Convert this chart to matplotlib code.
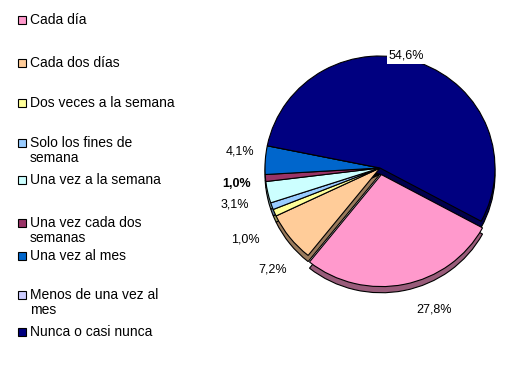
import textwrap
import numpy as np
import matplotlib
matplotlib.use("Agg")
import matplotlib.pyplot as plt
from matplotlib.patches import Rectangle
from matplotlib.colors import to_rgb

plt.rcParams['font.family'] = ['Liberation Sans', 'DejaVu Sans']

# data
categories = ["Cada día", "Cada dos días", "Dos veces a la semana",
              "Solo los fines de semana", "Una vez a la semana",
              "Una vez cada dos semanas", "Una vez al mes",
              "Menos de una vez al mes", "Nunca o casi nunca"]
values = [27.8, 7.2, 1.0, 1.0, 3.1, 1.0, 4.1, 0.0, 54.6]
value_labels = ["27,8%", "7,2%", "1,0%", "", "3,1%", "1,0%", "4,1%", "", "54,6%"]
colors = ["#FF99CC", "#FFCC99", "#FFFF99", "#99CCFF", "#CCFFFF",
          "#993366", "#0066CC", "#CCCCFF", "#000080"]
explode = [0.06, 0, 0, 0, 0, 0, 0, 0, 0]

W, H = 530, 365
fig = plt.figure(figsize=(W / 100, H / 100), dpi=100)

# pie axes: centre ~ (380,168) px, radius ~115 px wide, ~112 px tall (slight tilt)
cx, cy, rx, ry = 380, 168, 115, 112
lim = 1.4
ax = fig.add_axes([(cx - lim * rx) / W, (H - cy - lim * ry) / H,
                   2 * lim * rx / W, 2 * lim * ry / H])

start = -28.4
dark = [tuple(c * 0.6 for c in to_rgb(col)) for col in colors]
ax.pie(values, colors=dark, explode=explode, startangle=start, counterclock=False,
       center=(0, -0.055), radius=1.0, frame=True,
       wedgeprops=dict(edgecolor="black", linewidth=0.8))
wedges, _ = ax.pie(values, colors=colors, explode=explode, startangle=start,
                   counterclock=False, radius=1.0, frame=True,
                   wedgeprops=dict(edgecolor="black", linewidth=0.8))
ax.set_aspect("auto")
ax.set_xlim(-lim, lim)
ax.set_ylim(-lim, lim)
ax.axis("off")

# label placement (distance from centre, angle shift from slice middle)
label_dist = [1.35, 1.30, 1.33, 1.3, 1.30, 1.26, 1.23, 1.2, 1.03]
label_shift = [9, 6, 5, 0, 2, 1.5, -3, 0, 7]
for i, (w, lab) in enumerate(zip(wedges, value_labels)):
    if not lab:
        continue
    ang = np.deg2rad((w.theta1 + w.theta2) / 2 + label_shift[i])
    x, y = label_dist[i] * np.cos(ang), label_dist[i] * np.sin(ang)
    ax.text(x, y, lab, ha="center", va="center", fontsize=9,
            fontweight="bold" if i == 5 else "normal",
            bbox=dict(facecolor="white", edgecolor="none", pad=1.5) if i == 8 else None)

# legend
legend_y = [20, 63, 103, 143, 180, 223, 256, 295, 332]
for name, col, ly in zip(categories, colors, legend_y):
    fig.add_artist(Rectangle((18 / W, (H - ly - 4) / H), 8 / W, 8 / H,
                             facecolor=col, edgecolor="black", linewidth=0.8,
                             transform=fig.transFigure))
    fig.text(30 / W, (H - ly + 7) / H, textwrap.fill(name, 21), fontsize=10,
             ha="left", va="top", linespacing=1.05)

fig.savefig("out.png", dpi=100)
